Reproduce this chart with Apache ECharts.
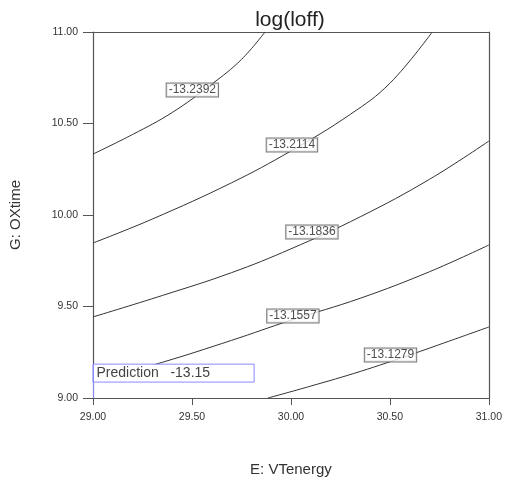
<!DOCTYPE html>
<html><head><meta charset="utf-8">
<script src="https://cdn.jsdelivr.net/npm/echarts@6/dist/echarts.min.js"></script>
<style>html,body{margin:0;padding:0;background:#fff}#c{width:505px;height:482px}</style>
</head><body><div id="c"></div>
<script>
const xTicks = [29.0, 29.5, 30.0, 30.5, 31.0];
const yTicks = [9.0, 9.5, 10.0, 10.5, 11.0];
const levels = ['-13.2392', '-13.2114', '-13.1836', '-13.1557', '-13.1279'];
const c1 = [[29.0,10.333],[29.2,10.44],[29.4,10.56],[29.6,10.715],[29.75,10.85],[29.869,11.0]];
const c2 = [[29.0,9.847],[29.3,9.978],[29.7,10.176],[30.0,10.350],[30.3,10.55],[30.5,10.72],[30.714,11.0]];
const c3 = [[29.0,9.443],[29.35,9.56],[29.7,9.685],[30.0,9.815],[30.35,9.99],[30.7,10.195],[31.0,10.404]];
const c4 = [[29.0,9.09],[29.35,9.195],[29.7,9.315],[30.0,9.425],[30.35,9.545],[30.7,9.69],[31.0,9.836]];
const c5 = [[29.884,9.0],[30.1,9.065],[30.35,9.145],[30.6,9.235],[30.8,9.311],[31.0,9.388]];
const contours = [c1, c2, c3, c4, c5];
const labelX = [29.502, 30.005, 30.106, 30.010, 30.503];
const labelY = [10.683, 10.383, 9.907, 9.448, 9.235];
const predictionText = 'Prediction   -13.15';
const predictionPoint = [29.0, 9.0];
const predictionBox = [[29.0, 9.087], [29.814, 9.185]];

const FONT = 'Liberation Sans, Arial, sans-serif';
const series = contours.map(d => ({
  type: 'line', data: d, smooth: 0.4, symbol: 'none', silent: true,
  lineStyle: {color: '#333', width: 1}, z: 2
}));
series.push({
  type: 'scatter', symbolSize: 0, z: 5, silent: true,
  data: levels.map((t, i) => ({value: [labelX[i], labelY[i]], name: t})),
  label: {show: true, position: 'inside', formatter: p => p.name,
    fontFamily: FONT, fontSize: 12, lineHeight: 12, color: '#222',
    backgroundColor: '#fff', borderColor: '#555', borderWidth: 1, padding: [1, 2, 0, 2]}
});
series.push({
  type: 'line', data: [], z: 6, silent: true,
  markLine: {symbol: 'none', silent: true, z: 11, label: {show: false},
    lineStyle: {color: '#8a8aff', width: 1, type: 'solid'},
    data: [[{coord: predictionPoint}, {coord: [predictionPoint[0], predictionBox[1][1]]}]]},
  markArea: {silent: true, z: 10,
    itemStyle: {color: '#fff', borderColor: '#8a8aff', borderWidth: 1},
    label: {show: true, position: 'insideLeft', formatter: predictionText, distance: 4,
      fontFamily: FONT, fontSize: 14, color: '#444'},
    data: [[{coord: predictionBox[0]}, {coord: predictionBox[1]}]]}
});

const axisCommon = {
  type: 'value', interval: 0.5,
  nameLocation: 'middle',
  nameTextStyle: {fontFamily: FONT, fontSize: 15, color: '#333'},
  axisLine: {show: true, onZero: false, lineStyle: {color: '#555', width: 1.2}},
  splitLine: {show: false}
};
const chart = echarts.init(document.getElementById('c'), null, {renderer: 'canvas'});
chart.setOption({
  animation: false,
  backgroundColor: '#fff',
  title: {text: 'log(loff)', left: 285, top: 5, textAlign: 'center',
    textStyle: {fontFamily: FONT, fontSize: 21, fontWeight: 'normal', color: '#222'}},
  grid: {left: 92, right: 15, top: 32, bottom: 84},
  xAxis: [Object.assign({}, axisCommon, {min: xTicks[0], max: xTicks[xTicks.length-1],
    name: 'E: VTenergy', nameGap: 64,
    axisTick: {show: true, length: 7, lineStyle: {color: '#555'}},
    axisLabel: {formatter: v => v.toFixed(2), fontFamily: FONT, fontSize: 10.5, color: '#333', margin: 14}}),
    Object.assign({}, axisCommon, {min: xTicks[0], max: xTicks[xTicks.length-1], position: 'top',
    axisTick: {show: false}, axisLabel: {show: false}})],
  yAxis: [Object.assign({}, axisCommon, {min: yTicks[0], max: yTicks[yTicks.length-1],
    name: 'G: OXtime', nameGap: 70,
    axisTick: {show: true, length: 10, lineStyle: {color: '#555'}},
    axisLabel: {formatter: v => v.toFixed(2), fontFamily: FONT, fontSize: 10.5, color: '#333', margin: 15}}),
    Object.assign({}, axisCommon, {min: yTicks[0], max: yTicks[yTicks.length-1], position: 'right',
    axisTick: {show: false}, axisLabel: {show: false}})],
  series: series
});
</script>
</body></html>
